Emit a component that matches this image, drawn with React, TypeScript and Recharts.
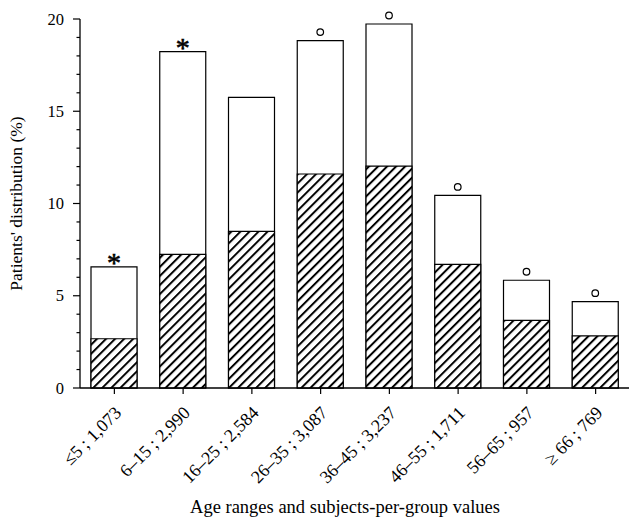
import React from 'react';
import { BarChart, Bar, XAxis, YAxis, LabelList, Label } from 'recharts';

const categories = ['≤5 ; 1,073', '6–15 ; 2,990', '16–25 ; 2,584', '26–35 ; 3,087', '36–45 ; 3,237', '46–55 ; 1,711', '56–65 ; 957', '≥ 66 ; 769'];
const totalValues = [6.57, 18.23, 15.75, 18.83, 19.73, 10.44, 5.84, 4.68];
const hatchedValues = [2.67, 7.24, 8.49, 11.6, 12.03, 6.7, 3.67, 2.82];
const marks = ['*', '*', '', 'o', 'o', 'o', 'o', 'o'];
const yTicks = [0, 1, 2, 3, 4, 5, 6, 7, 8, 9, 10, 11, 12, 13, 14, 15, 16, 17, 18, 19, 20];

const FONT = '"Liberation Serif", "Times New Roman", "DejaVu Serif", serif';

const data = categories.map((name, i) => ({
  name,
  total: totalValues[i],
  hatched: hatchedValues[i],
  mark: marks[i],
}));

const YTick = ({ x, y, payload }: any) => {
  const major = payload.value % 5 === 0;
  return (
    <g>
      <line x1={x - (major ? 7 : 3.5)} y1={y} x2={x} y2={y} stroke="#000" strokeWidth={1.2} />
      {major && (
        <text x={x - 16} y={y} dy={5.5} textAnchor="end" fontSize={16.5} fontFamily={FONT} fill="#000">
          {payload.value}
        </text>
      )}
    </g>
  );
};

const XTick = ({ x, y, payload }: any) => (
  <g>
    <line x1={x} y1={y} x2={x} y2={y + 6} stroke="#000" strokeWidth={1.2} />
    <text
      x={0}
      y={0}
      textAnchor="end"
      fontSize={18}
      fontFamily={FONT}
      fill="#000"
      transform={`translate(${x + 8},${y + 26}) rotate(-45)`}
    >
      {payload.value}
    </text>
  </g>
);

const Mark = ({ x, y, width, value }: any) => {
  if (!value) return null;
  const cx = x + width / 2;
  if (value === '*') {
    return (
      <text x={cx} y={y + 5} textAnchor="middle" fontSize={28} fontFamily={FONT} fill="#000" stroke="#000" strokeWidth={0.6}>
        *
      </text>
    );
  }
  return <circle cx={cx} cy={y - 8.5} r={3.3} fill="none" stroke="#000" strokeWidth={1.2} />;
};

export default function App() {
  return (
    <div style={{ position: 'absolute', left: 0, top: 0, width: 629, height: 519, overflow: 'hidden', background: '#fff', fontFamily: FONT }}>
      <BarChart
        width={630}
        height={519}
        data={data}
        margin={{ top: 19, right: 0, left: 0, bottom: 0 }}
        barSize={46}
        barGap={-46}
      >
        <defs>
          <pattern id="hatch" width="6.4" height="10" patternUnits="userSpaceOnUse" patternTransform="rotate(45)">
            <rect width="6.4" height="10" fill="#fff" />
            <line x1="1" y1="0" x2="1" y2="10" stroke="#000" strokeWidth={2} />
          </pattern>
        </defs>
        <XAxis
          dataKey="name"
          height={131}
          interval={0}
          tickSize={0}
          tickMargin={0}
          tickLine={false}
          axisLine={{ stroke: '#000', strokeWidth: 1.3 }}
          tick={<XTick />}
        >
          <Label
            value="Age ranges and subjects-per-group values"
            position="insideBottom"
            offset={6}
            dx={-10}
            style={{ fontSize: 18.5, fontFamily: FONT, fill: '#000' }}
          />
        </XAxis>
        <YAxis
          width={80}
          domain={[0, 20]}
          ticks={yTicks}
          interval={0}
          tickSize={0}
          tickMargin={0}
          tickLine={false}
          axisLine={{ stroke: '#000', strokeWidth: 1.3 }}
          tick={<YTick />}
        >
          <Label
            value="Patients' distribution (%)"
            angle={-90}
            position="insideLeft"
            offset={16}
            style={{ fontSize: 17.5, fontFamily: FONT, fill: '#000', textAnchor: 'middle' }}
          />
        </YAxis>
        <Bar dataKey="total" fill="#fff" stroke="#000" strokeWidth={1.2} isAnimationActive={false}>
          <LabelList dataKey="mark" content={<Mark />} />
        </Bar>
        <Bar dataKey="hatched" fill="url(#hatch)" stroke="#000" strokeWidth={1.2} isAnimationActive={false} />
      </BarChart>
    </div>
  );
}
